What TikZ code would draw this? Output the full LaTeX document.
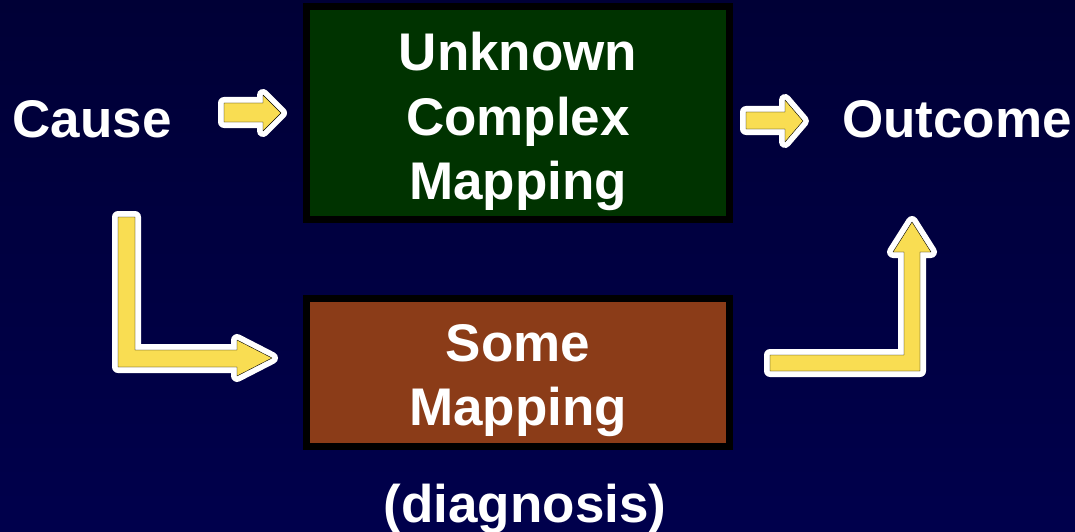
\documentclass[tikz,border=0pt]{standalone}
\usepackage{fontspec}
\setmainfont{Liberation Sans}
\definecolor{bgtop}{RGB}{0,0,54}
\definecolor{bgbot}{RGB}{0,0,76}
\definecolor{boxgreen}{RGB}{0,51,0}
\definecolor{boxbrown}{RGB}{139,60,24}
\definecolor{arrowyellow}{RGB}{249,221,82}
\tikzset{
  mapbox/.style={draw=black, line width=7pt, minimum width=423pt, minimum height=#1, inner sep=0pt},
  lbl/.style={text=white, font=\fontsize{53}{64.5}\selectfont\bfseries, inner sep=0pt},
  boxlbl/.style={lbl, align=center},
  blockarrow/.style={fill=arrowyellow, line join=round,
    preaction={draw=white, line width=12pt, line join=round}}
}
\begin{document}
\begin{tikzpicture}[x=1pt,y=-1pt]
\useasboundingbox (0,0) rectangle (1075,532);
\shade[top color=bgtop, bottom color=bgbot] (0,0) rectangle (1075,532);

% boxes
\node[mapbox=213pt, fill=boxgreen] (unk) at (518,113) {};
\node[boxlbl, anchor=north] (unkt) at (518,32) {Unknown\\Complex\\Mapping};
\node[mapbox=148pt, fill=boxbrown] (some) at (518,372.5) {};
\node[boxlbl, anchor=north] (somet) at (518,324) {Some\\Mapping};

% side labels
\node[lbl, anchor=base] (cause) at (92,137) {Cause};
\node[lbl, anchor=base] (outcome) at (957,137) {Outcome};
\node[lbl, anchor=base] (diag) at (525,522) {(diagnosis)};

% arrows
\draw[blockarrow] (224,103) -- (263,103) -- (263,95) -- (281,113) -- (263,131) -- (263,122) -- (224,122) -- cycle;
\draw[blockarrow] (746,112) -- (785,112) -- (785,100) -- (803,121) -- (785,142) -- (785,129) -- (746,129) -- cycle;
\draw[blockarrow] (118,217) -- (135,217) -- (135,350) -- (237,350) -- (237,340) -- (272,358) -- (237,376) -- (237,367) -- (118,367) -- cycle;
\draw[blockarrow] (770,355) -- (904,355) -- (904,252) -- (893,252) -- (912,222) -- (931,252) -- (920,252) -- (920,371) -- (770,371) -- cycle;
\end{tikzpicture}
\end{document}
